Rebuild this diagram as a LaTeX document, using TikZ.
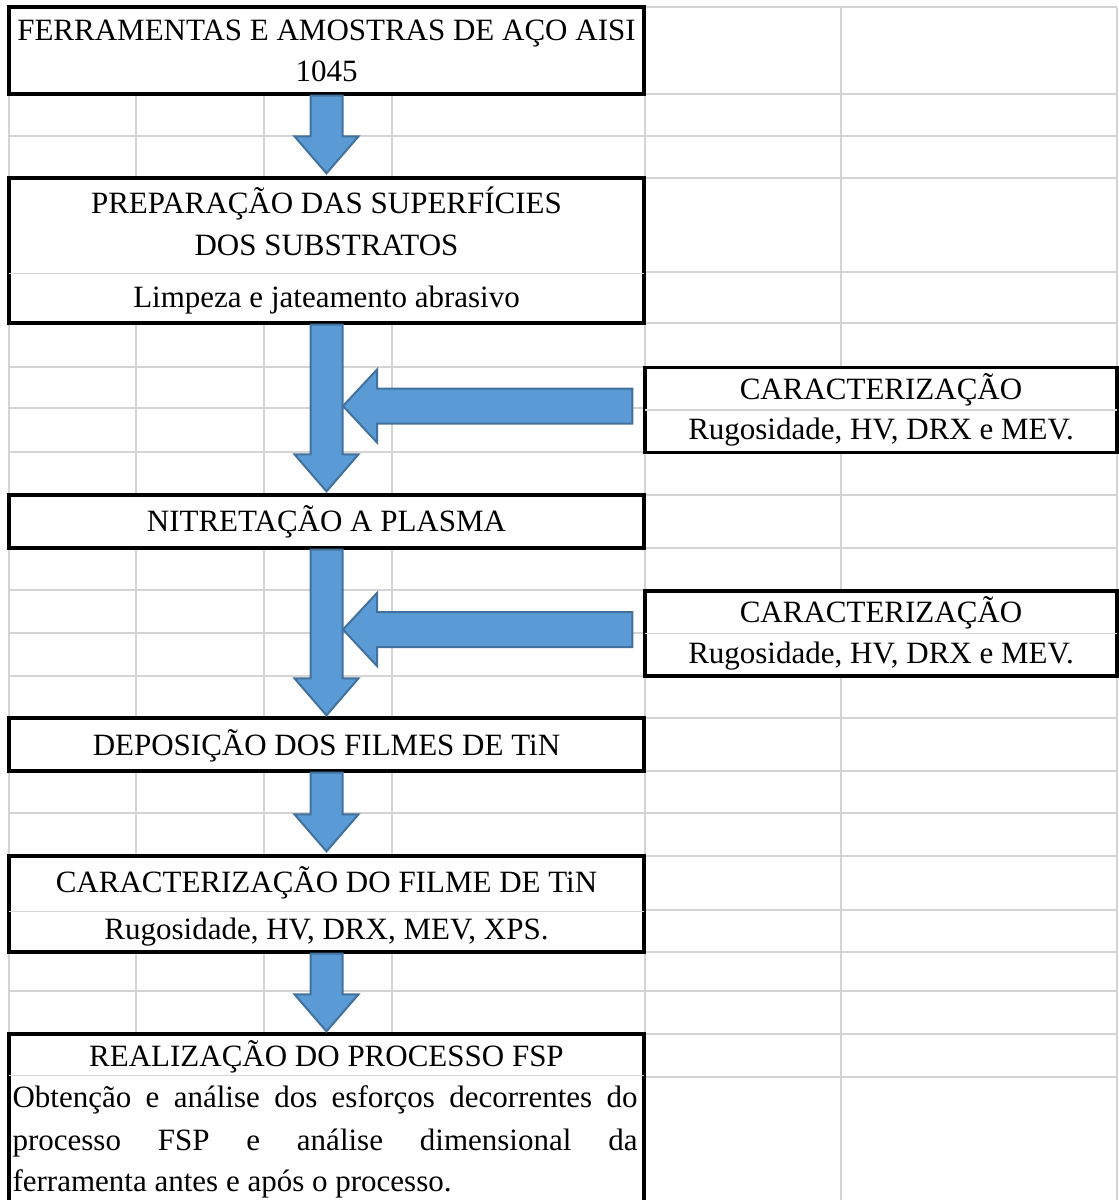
\documentclass[tikz,border=0pt]{standalone}
\usepackage{fontspec}
\setmainfont{Liberation Serif}
\usetikzlibrary{positioning,calc}
\definecolor{cellgray}{RGB}{212,212,212}
\definecolor{arrowblue}{RGB}{91,155,213}
\definecolor{arrowedge}{RGB}{65,113,156}
\tikzstyle{box}=[draw, fill=white, line width=3.3pt, minimum width=635pt, inner sep=0pt]
\tikzstyle{box1}=[draw, fill=white, line width=3.3pt, minimum width=472pt, minimum height=85pt, inner sep=0pt]
\tikzstyle{txt}=[anchor=base, inner sep=0pt]
\tikzstyle{cell}=[draw=cellgray, line width=1.4pt]
\tikzstyle{row}=[cell, shorten <=1.7pt, shorten >=1.7pt]
\tikzstyle{barrow}=[draw=arrowedge, fill=arrowblue, line width=2pt, line join=miter]
% fat arrows: from (#1) to the tip (#2)
\newcommand{\vblock}[2]{\draw[barrow] ($(#1)+(-16,0)$) -- ($(#2)+(-16,-37)$) -- ($(#2)+(-32,-37)$) -- (#2) -- ($(#2)+(32,-37)$) -- ($(#2)+(16,-37)$) -- ($(#1)+(16,0)$) -- cycle;}
\newcommand{\hblock}[2]{\draw[barrow] ($(#1)+(0,-17.5)$) -- ($(#2)+(34,-17.5)$) -- ($(#2)+(34,-36.5)$) -- (#2) -- ($(#2)+(34,36.5)$) -- ($(#2)+(34,17.5)$) -- ($(#1)+(0,17.5)$) -- cycle;}

\begin{document}
\begin{tikzpicture}[x=1pt,y=-1pt,font=\fontsize{31}{40}\selectfont]
\useasboundingbox (0,0) rectangle (1119,1200);
\clip (0,0) rectangle (1119,1200);

% spreadsheet grid
\foreach \y in {7,94,136,178,272,323,367,408,452,495,548,590,633,676,718,771,813,856,910,952,991,1034,1077}
  \draw[cell] (9,\y) -- (1117,\y);
\foreach \x in {9,136,264,392,645,841,1117}
  \draw[cell] (\x,7) -- (\x,1200);

\node[box, minimum height=87pt] at (326.5,50.5) (mat) {};
\node[box, minimum height=145pt, below of = mat, node distance = 200pt] (prep) {};
\node[box, minimum height=53pt, below of = prep, node distance = 271pt] (nit) {};
\node[box, minimum height=53pt, below of = nit, node distance = 223pt] (dep) {};
\node[box, minimum height=96pt, below of = dep, node distance = 159.5pt] (carf) {};
\node[box, minimum height=226pt, below of = carf, node distance = 243pt] (fsp) {};
\node[box1] at (881,410) (car1) {};
\node[box1] at (881,633.5) (car2) {};

\draw[row] ($(prep.south west)+(0,-51)$) -- ($(prep.south east)+(0,-51)$);
\draw[row] ($(carf.south west)+(0,-42)$) -- ($(carf.south east)+(0,-42)$);
\draw[row] ($(fsp.north west)+(0,43)$) -- ($(fsp.north east)+(0,43)$);
\draw[row] (car1.west) -- (car1.east);
\draw[row] (car2.west) -- (car2.east);

\node[txt] (mat-a) at ($(mat.north)+(0,35)$) {FERRAMENTAS E AMOSTRAS DE AÇO AISI};
\node[txt] (mat-b) at ($(mat.north)+(0,76)$) {1045};
\node[txt] (prep-a) at ($(prep.north)+(0,37)$) {PREPARAÇÃO DAS SUPERFÍCIES};
\node[txt] (prep-b) at ($(prep.north)+(0,79)$) {DOS SUBSTRATOS};
\node[txt] (prep-c) at ($(prep.north)+(0,131)$) {Limpeza e jateamento abrasivo};
\node[txt] (car1-a) at ($(car1.north)+(0,34)$) {CARACTERIZAÇÃO};
\node[txt] (car1-b) at ($(car1.north)+(0,74)$) {Rugosidade, HV, DRX e MEV.};
\node[txt] (nit-a) at ($(nit.north)+(0,38)$) {NITRETAÇÃO A PLASMA};
\node[txt] (car2-a) at ($(car2.north)+(0,33)$) {CARACTERIZAÇÃO};
\node[txt] (car2-b) at ($(car2.north)+(0,74)$) {Rugosidade, HV, DRX e MEV.};
\node[txt] (dep-a) at ($(dep.north)+(0,39)$) {DEPOSIÇÃO DOS FILMES DE TiN};
\node[txt] (carf-a) at ($(carf.north)+(0,38)$) {CARACTERIZAÇÃO DO FILME DE TiN};
\node[txt] (carf-b) at ($(carf.north)+(0,85)$) {Rugosidade, HV, DRX, MEV, XPS.};
\node[txt] (fsp-a) at ($(fsp.north)+(0,34)$) {REALIZAÇÃO DO PROCESSO FSP};
\node[txt, anchor=base west] (fsp-b) at ($(fsp.north west)+(5,75)$) {\makebox[625pt][s]{Obtenção e análise dos esforços decorrentes do}};
\node[txt, anchor=base west] (fsp-c) at ($(fsp.north west)+(5,118)$) {\makebox[625pt][s]{processo FSP e análise dimensional da}};
\node[txt, anchor=base west] (fsp-d) at ($(fsp.north west)+(5,159)$) {ferramenta antes e após o processo.};

% flow arrows
\coordinate (p1) at ($(prep.north)+(0,-3)$);
\coordinate (p2) at ($(nit.north)+(0,-2)$);
\coordinate (p3) at ($(dep.north)+(0,-1)$);
\coordinate (p4) at ($(carf.north)+(0,-3)$);
\coordinate (p5) at ($(fsp.north)+(0,-1)$);
\vblock{mat.south}{p1}
\vblock{prep.south}{p2}
\vblock{nit.south}{p3}
\vblock{dep.south}{p4}
\vblock{carf.south}{p5}

\coordinate (t1) at ($(car1.west)+(-11,-4)$);
\coordinate (h1) at ($(prep.south)+(16.5,0)$);
\coordinate (e1) at (h1 |- t1);
\hblock{t1}{e1}
\coordinate (t2) at ($(car2.west)+(-11,-4)$);
\coordinate (h2) at ($(nit.south)+(16.5,0)$);
\coordinate (e2) at (h2 |- t2);
\hblock{t2}{e2}
\end{tikzpicture}
\end{document}
